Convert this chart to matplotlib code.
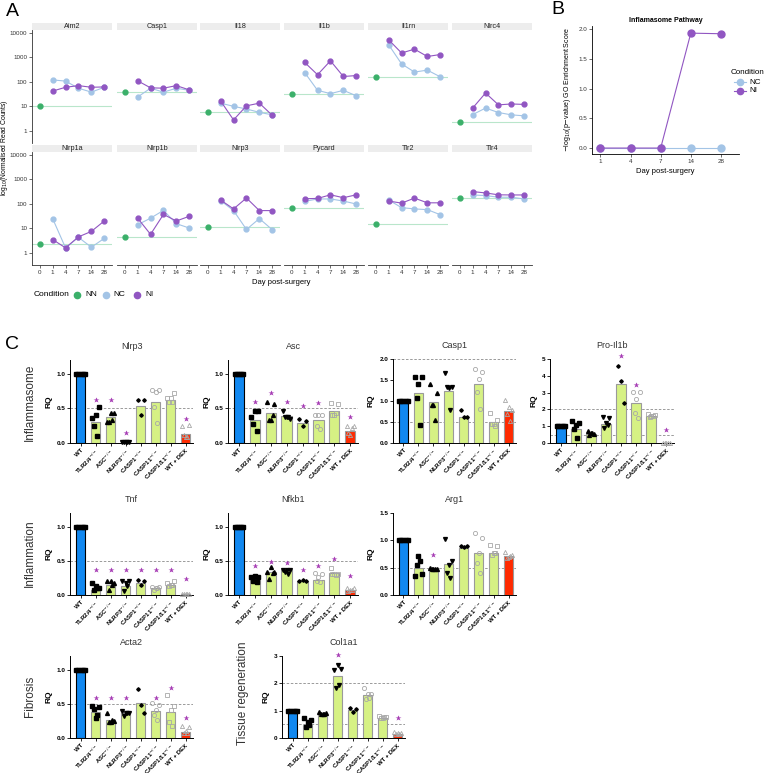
# Inflammasome figure: A (facets of read counts), B (GO enrichment), C (qPCR bars)
import matplotlib
matplotlib.use('Agg')
import matplotlib.pyplot as plt
from matplotlib.lines import Line2D
from matplotlib.patches import Rectangle
import numpy as np

plt.rcParams['font.family'] = ['Liberation Sans', 'DejaVu Sans']

# ---------------- data: panel A ----------------
genes = ['Aim2', 'Casp1', 'Il18', 'Il1b', 'Il1rn', 'Nlrc4',
         'Nlrp1a', 'Nlrp1b', 'Nlrp3', 'Pycard', 'Tlr2', 'Tlr4']
days = ['0', '1', '4', '7', '14', '28']
nn_mean = [10, 40, 6, 32, 160, 2.3, 2.3, 4.3, 11.5, 66, 15, 174]
nc_mean = [[120, 107, 55, 38, 60],
           [24, 55, 38, 55, 45],
           [13.5, 10, 7.8, 5.7, 4.5],
           [240, 45, 33, 45, 27],
           [3250, 540, 250, 300, 160],
           [4.6, 8.5, 5.6, 4.5, 4.1],
           [25, 1.6, 4.3, 1.7, 3.9],
           [14, 26, 54, 15.5, 10.3],
           [135, 53, 9, 25, 8.8],
           [126, 158, 158, 130, 98],
           [144, 70, 62, 58, 36],
           [230, 217, 186, 186, 158]]
ni_mean = [[42, 60, 70, 60, 62],
           [110, 57, 55, 70, 47],
           [16.5, 2.8, 10.5, 13.5, 4.3],
           [620, 195, 720, 165, 180],
           [5200, 1500, 2150, 1080, 1300],
           [8.5, 35, 11.5, 12.5, 12],
           [3.5, 1.6, 4.5, 7.5, 20],
           [26, 5.7, 37, 20, 31],
           [143, 62, 173, 53, 53],
           [162, 166, 233, 178, 233],
           [130, 107, 171, 110, 110],
           [316, 278, 233, 230, 230]]

# ---------------- data: panel B ----------------
b_days = ['1', '4', '7', '14', '28']
b_nc = [0, 0, 0, 0, 0]
b_ni = [0, 0, 0, 1.93, 1.92]

# ---------------- data: panel C ----------------
groups = ['WT', r'TLR2/4$^{-/-}$', r'ASC$^{-/-}$', r'NLRP3$^{-/-}$', r'CASP1$^{-/-}$',
          r'CASP11$^{-/-}$', r'CASP1/11$^{-/-}$', 'WT + DEX']
nan = np.nan
WT5 = [1, 1, 1, 1, 1]

nlrp3_bar = [1.0, 0.31, 0.37, 0.01, 0.54, 0.60, 0.62, 0.13]
nlrp3_pts = [WT5, [0.36, 0.52, 0.40, 0.25, 0.10], [0.30, 0.44, 0.44, 0.30, 0.33],
             [0.01, 0.01, 0.01, 0.01, 0.01], [0.62, 0.62, 0.41],
             [0.76, 0.76, 0.74, 0.52, 0.29], [0.65, 0.73, 0.65, 0.59, 0.59],
             [0.25, 0.26, 0.09, 0.11, 0.08]]
nlrp3_star = [nan, 0.62, 0.62, 0.15, nan, nan, nan, 0.34]

asc_bar = [1.0, 0.33, 0.44, 0.39, 0.29, 0.33, 0.46, 0.17]
asc_pts = [WT5, [0.38, 0.46, 0.46, 0.28, 0.17], [0.59, 0.56, 0.33, 0.33, 0.41],
           [0.46, 0.34, 0.375, 0.375, 0.37], [0.34, 0.32, 0.25],
           [0.40, 0.40, 0.40, 0.25, 0.20], [0.58, 0.57, 0.41, 0.41, 0.43],
           [0.24, 0.24, 0.11, 0.14, 0.21]]
asc_star = [nan, 0.60, 0.72, 0.60, 0.53, 0.58, nan, 0.38]

casp1_bar = [1.0, 1.18, 0.97, 1.24, 0.62, 1.40, 0.50, 0.76]
casp1_pts = [WT5, [1.57, 1.56, 1.40, 1.06, 0.42], [1.40, 1.20, 0.90, 0.90, 0.54],
             [1.66, 1.34, 1.32, 1.34, 0.78], [0.78, 0.61, 0.61],
             [1.77, 1.70, 1.52, 1.22, 0.82], [0.72, 0.54, 0.46, 0.46, 0.40],
             [1.02, 0.78, 0.86, 0.69, 0.52]]
casp1_star = [nan] * 8

il1b_bar = [1.0, 0.86, 0.56, 1.12, 3.5, 2.36, 1.6, 0.02]
il1b_pts = [WT5, [1.3, 1.2, 1.06, 0.86, 0.3], [0.72, 0.56, 0.6, 0.5, 0.58],
            [1.52, 1.46, 1.2, 0.92, 1.06], [4.6, 2.4, 3.72],
            [3.06, 3.06, 2.6, 1.8, 1.5], [1.7, 1.66, 1.6, 1.55, 1.62],
            [0.02, 0.02, 0.02, 0.02, 0.02]]
il1b_star = [nan, nan, nan, nan, 5.16, 3.46, nan, 0.76]

tnf_bar = [1.0, 0.08, 0.14, 0.13, 0.18, 0.10, 0.15, 0.01]
tnf_pts = [WT5, [0.17, 0.10, 0.125, 0.08, 0.10], [0.21, 0.17, 0.21, 0.08, 0.15],
           [0.21, 0.2, 0.18, 0.06, 0.13], [0.22, 0.21, 0.14],
           [0.11, 0.11, 0.10, 0.08, 0.10], [0.17, 0.21, 0.15, 0.13, 0.14],
           [0.01, 0.01, 0.01, 0.01, 0.01]]
tnf_star = [nan, 0.36, 0.36, 0.36, 0.36, 0.36, 0.36, 0.23]

nfkb1_bar = [1.0, 0.22, 0.33, 0.36, 0.20, 0.22, 0.32, 0.07]
nfkb1_pts = [WT5, [0.26, 0.26, 0.28, 0.20, 0.19], [0.33, 0.33, 0.41, 0.23, 0.32],
             [0.37, 0.37, 0.37, 0.33, 0.31], [0.20, 0.20, 0.22],
             [0.32, 0.31, 0.26, 0.20, 0.19], [0.40, 0.31, 0.31, 0.31, 0.29],
             [0.10, 0.10, 0.08, 0.06, 0.07]]
nfkb1_star = [nan, 0.42, 0.48, 0.47, 0.36, 0.42, 0.52, 0.28]

arg1_bar = [1.0, 0.50, 0.49, 0.56, 0.86, 0.77, 0.77, 0.72]
arg1_pts = [WT5, [0.34, 0.38, 0.71, 0.54, 0.62], [0.5, 0.48, 0.47, 0.47, 0.48],
            [1.02, 0.62, 0.54, 0.41, 0.31], [0.89, 0.89, 0.88],
            [1.14, 1.04, 0.77, 0.58, 0.41], [0.92, 0.89, 0.76, 0.74, 0.76],
            [0.78, 0.74, 0.70, 0.68, 0.72]]
arg1_star = [nan, nan, 0.74, nan, nan, nan, nan, nan]

acta2_bar = [1.0, 0.38, 0.26, 0.36, 0.51, 0.39, 0.38, 0.09]
acta2_pts = [WT5, [0.47, 0.46, 0.30, 0.43, 0.33], [0.37, 0.25, 0.24, 0.23, 0.26],
             [0.39, 0.37, 0.37, 0.32, 0.36], [0.71, 0.37, 0.48],
             [0.51, 0.49, 0.41, 0.33, 0.27], [0.63, 0.47, 0.41, 0.24, 0.18],
             [0.18, 0.16, 0.10, 0.07, 0.08]]
acta2_star = [nan, 0.59, 0.59, 0.58, nan, 0.59, 0.73, 0.30]

col1a1_bar = [1.0, 0.49, 0.87, 2.26, 1.04, 1.59, 0.74, 0.16]
col1a1_pts = [WT5, [0.74, 0.67, 0.59, 0.40, 0.49], [0.95, 0.93, 0.87, 0.87, 0.87],
              [2.5, 2.54, 2.68, 1.84, 1.93], [1.1, 1.06, 0.95],
              [1.84, 1.62, 1.62, 1.44, 1.46], [0.79, 0.77, 0.74, 0.74, 0.76],
              [0.22, 0.2, 0.2, 0.13, 0.15]]
col1a1_star = [nan, nan, nan, 3.05, nan, nan, nan, 0.74]

# ---------------- figure helpers ----------------
W, H = 765, 773
fig = plt.figure(figsize=(W / 100, H / 100), dpi=100)


def px_axes(x0, y0, x1, y1):
    return fig.add_axes([x0 / W, 1 - y1 / H, (x1 - x0) / W, (y1 - y0) / H])


def fig_text(x, y, s, **kw):
    fig.text(x / W, 1 - y / H, s, **kw)


def legend_key(x, y, color, line=True):
    if line:
        fig.add_artist(Line2D([(x - 6) / W, (x + 6) / W], [1 - y / H] * 2,
                              transform=fig.transFigure, color=color, lw=0.8))
    fig.add_artist(Line2D([x / W], [1 - y / H], transform=fig.transFigure,
                          marker='o', ms=4.5, color=color, lw=0))


NN_COL = '#3bb06a'
NC_COL = '#a3c4e6'
NI_COL = '#9156c2'

# ---------------- panel A ----------------
col_x = [32, 117, 200, 284, 368, 452]
row_y = [(30, 143), (152, 265)]
xpos = np.arange(len(days))
for i, gene in enumerate(genes):
    r, c = divmod(i, 6)
    ax = px_axes(col_x[c], row_y[r][0], col_x[c] + 80, row_y[r][1])
    ax.set_yscale('log')
    ax.set_ylim(0.32, 13000)
    ax.set_xlim(-0.6, 5.6)
    ax.axhline(nn_mean[i], color='#b9e6cb', lw=0.8, zorder=1)
    ax.plot(xpos[1:], nc_mean[i], color=NC_COL, lw=0.8, marker='o', ms=3.5, zorder=3)
    ax.plot(xpos[1:], ni_mean[i], color=NI_COL, lw=0.8, marker='o', ms=3.5, zorder=4)
    ax.plot([0], [nn_mean[i]], color=NN_COL, marker='o', ms=3.5, lw=0, zorder=4)
    for s in ['top', 'right']:
        ax.spines[s].set_visible(False)
    ax.spines['left'].set_visible(c == 0)
    ax.spines['bottom'].set_visible(r == 1)
    for s in ['left', 'bottom']:
        ax.spines[s].set_linewidth(0.6)
        ax.spines[s].set_color('#333333')
    ax.minorticks_off()
    ax.set_yticks([1, 10, 100, 1000, 10000])
    ax.set_yticklabels(['1', '10', '100', '1000', '10000'])
    ax.set_xticks(xpos)
    ax.set_xticklabels(days)
    ax.tick_params(labelsize=4.5, length=2, width=0.5, colors='#333333', pad=1.5)
    if c != 0:
        ax.tick_params(axis='y', left=False, labelleft=False)
    if r == 0:
        ax.tick_params(axis='x', bottom=False, labelbottom=False)
    h = 7 / 113
    ax.add_patch(Rectangle((0, 1), 1, h, transform=ax.transAxes, clip_on=False,
                           facecolor='#ededed', edgecolor='none'))
    ax.text(0.5, 1 + h / 2, gene, transform=ax.transAxes, ha='center', va='center',
            fontsize=5.2, color='#222222')

fig_text(12, 12, 'A', fontsize=14, va='center', ha='center')
fig_text(5, 148, r'log$_{10}$(Normalised Read Counts)', fontsize=4.9, rotation=90,
         va='center', ha='center')
fig_text(281, 283, 'Day post-surgery', fontsize=5.5, ha='center', va='center')
fig_text(34, 295, 'Condition', fontsize=6, va='center')
for lx, tx, lab, col in [(77, 85, 'NN', NN_COL), (106, 113, 'NC', NC_COL),
                         (137, 145, 'NI', NI_COL)]:
    legend_key(lx, 295, col, line=False)
    fig_text(tx, 295, lab, fontsize=6, va='center')

# ---------------- panel B ----------------
axb = px_axes(592, 26, 739, 154)
bx = np.arange(1, len(b_days) + 1)
axb.plot(bx, b_nc, color=NC_COL, lw=0.8, marker='o', ms=5, zorder=3)
axb.plot(bx, b_ni, color=NI_COL, lw=0.8, marker='o', ms=5, zorder=4)
axb.set_xlim(0.72, 5.6)
axb.set_ylim(-0.1, 2.05)
axb.set_xticks(bx)
axb.set_xticklabels(b_days)
axb.set_yticks([0, 0.5, 1.0, 1.5, 2.0])
axb.set_yticklabels(['0.0', '0.5', '1.0', '1.5', '2.0'])
axb.tick_params(labelsize=4.5, length=2, width=0.5, pad=1.5, colors='#333333')
for s in ['top', 'right']:
    axb.spines[s].set_visible(False)
for s in ['left', 'bottom']:
    axb.spines[s].set_linewidth(0.6)
axb.set_title('Inflamasome Pathway', fontsize=5, fontweight='bold', pad=3)
axb.set_xlabel('Day post-surgery', fontsize=5.5, labelpad=3)
axb.set_ylabel(r'$-$log$_{10}$(p$-$value) GO Enrichment Score', fontsize=5, labelpad=4)
fig_text(558, 10, 'B', fontsize=14, va='center', ha='center')
fig_text(731, 72, 'Condition', fontsize=5.8, va='center')
legend_key(740, 82, NC_COL)
fig_text(749, 82, 'NC', fontsize=5.8, va='center')
legend_key(740, 91, NI_COL)
fig_text(749, 91, 'NI', fontsize=5.8, va='center')

# ---------------- panel C ----------------
bar_colors = ['#1188f0'] + ['#d6f184'] * 6 + ['#ff2a00']
bar_edges = ['black'] + ['#9a9a9a'] * 7
pt_style = [
    dict(marker='s', mfc='black', mec='black', ms=2.4),
    dict(marker='s', mfc='black', mec='black', ms=2.6),
    dict(marker='^', mfc='black', mec='black', ms=2.8),
    dict(marker='v', mfc='black', mec='black', ms=2.8),
    dict(marker='D', mfc='black', mec='black', ms=1.8),
    dict(marker='o', mfc='none', mec='#a8a8a8', ms=3.0, mew=0.6),
    dict(marker='s', mfc='none', mec='#a8a8a8', ms=3.0, mew=0.6),
    dict(marker='^', mfc='none', mec='#a8a8a8', ms=3.0, mew=0.6),
]
offsets = {3: [-0.2, 0.2, 0.0], 5: [-0.22, 0.22, 0.0, -0.11, 0.11]}
wt_offsets = [-0.27, -0.14, 0.0, 0.14, 0.27]


def bar_panel(rect, title, bars, pts, stars, ylim, yticks, yticklabels, hlines):
    ax = px_axes(*rect)
    x = np.arange(len(groups))
    ax.bar(x, bars, width=0.66, color=bar_colors, edgecolor=bar_edges, linewidth=0.8,
           zorder=2)
    for hl in hlines:
        ax.axhline(hl, color='#8a8a8a', lw=0.6, ls=(0, (3, 2)), zorder=1)
    for g, vals in enumerate(pts):
        offs = wt_offsets if g == 0 else offsets[len(vals)]
        ax.plot(x[g] + np.array(offs), vals, lw=0, zorder=4, clip_on=False, **pt_style[g])
    ax.plot(x, stars, lw=0, marker='*', ms=4.2, color='#a63cb4', mec='none', zorder=5,
            clip_on=False)
    ax.set_xlim(-0.7, 7.5)
    ax.set_ylim(*ylim)
    ax.set_yticks(yticks)
    ax.set_yticklabels(yticklabels)
    ax.set_xticks(x)
    ax.set_xticklabels(groups, rotation=45, ha='right', rotation_mode='anchor')
    for s in ['top', 'right']:
        ax.spines[s].set_visible(False)
    for s in ['left', 'bottom']:
        ax.spines[s].set_linewidth(0.7)
    ax.tick_params(labelsize=4.6, length=2, width=0.6, pad=1.5)
    ax.tick_params(axis='x', labelsize=4.3)
    for lab in ax.get_xticklabels() + ax.get_yticklabels():
        lab.set_fontweight('bold')
    ax.set_ylabel('RQ', fontsize=6, fontweight='bold', labelpad=3)
    ax.set_title(title, fontsize=6.5, pad=8, color='#333333')
    return ax


t12 = ([0, 1.2], [0, 0.5, 1.0], ['0.0', '0.5', '1.0'])
bar_panel((70, 360, 193, 443), 'Nlrp3', nlrp3_bar, nlrp3_pts, nlrp3_star, *t12, [0.5])
bar_panel((228, 360, 358, 443), 'Asc', asc_bar, asc_pts, asc_star, *t12, [0.5])
bar_panel((393, 359, 516, 443), 'Casp1', casp1_bar, casp1_pts, casp1_star,
          [0, 2.0], [0, 0.5, 1.0, 1.5, 2.0], ['0.0', '0.5', '1.0', '1.5', '2.0'], [0.5, 2.0])
bar_panel((550, 359, 674, 443), 'Pro-Il1b', il1b_bar, il1b_pts, il1b_star,
          [0, 5], [0, 1, 2, 3, 4, 5], ['0', '1', '2', '3', '4', '5'], [0.5, 2.0])
bar_panel((70, 513, 193, 595), 'Tnf', tnf_bar, tnf_pts, tnf_star, *t12, [0.5])
bar_panel((228, 513, 358, 595), 'Nfkb1', nfkb1_bar, nfkb1_pts, nfkb1_star, *t12, [0.5])
bar_panel((393, 513, 516, 595), 'Arg1', arg1_bar, arg1_pts, arg1_star,
          [0, 1.5], [0, 0.5, 1.0, 1.5], ['0.0', '0.5', '1.0', '1.5'], [0.5])
bar_panel((70, 656, 193, 738), 'Acta2', acta2_bar, acta2_pts, acta2_star, *t12, [0.5])
bar_panel((282, 656, 405, 738), 'Col1a1', col1a1_bar, col1a1_pts, col1a1_star,
          [0, 3], [0, 1, 2, 3], ['0', '1', '2', '3'], [0.5, 2.0])

fig_text(12, 345, 'C', fontsize=14, va='center', ha='center')
for lx, ly, lab in [(30, 402, 'Inflammasome'), (30, 553, 'Inflammation'),
                    (30, 696, 'Fibrosis'), (243, 693, 'Tissue regeneration')]:
    fig_text(lx, ly, lab, fontsize=8.5, rotation=90, va='center', ha='center',
             color='#333333')

fig.savefig('out.png', dpi=100)
